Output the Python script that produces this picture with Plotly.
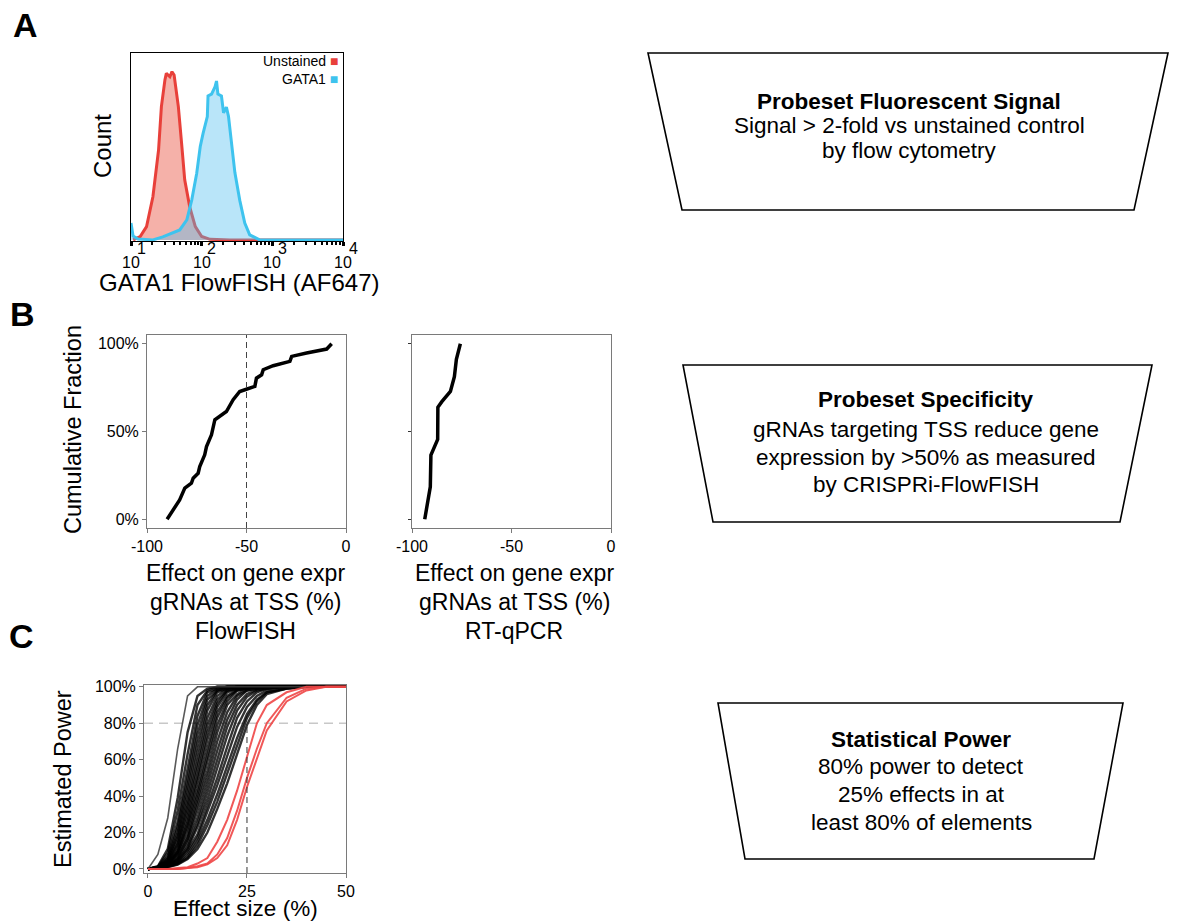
import plotly.graph_objects as go

W, H = 1185, 922
FONT = "Liberation Sans, Arial, Helvetica, sans-serif"

# ---------------- Panel A data: flow histogram (log10 intensity, normalised count)
RED_LOG = [1.03, 1.13, 1.22, 1.31, 1.39, 1.43, 1.48, 1.50, 1.55, 1.58, 1.61, 1.67, 1.72,
           1.76, 1.83, 1.91, 2.00, 2.12, 2.40, 3.00, 4.00]
RED_CNT = [0, 0.018, 0.071, 0.231, 0.481, 0.713, 0.856, 0.891, 0.873, 0.900, 0.882, 0.713,
           0.499, 0.321, 0.178, 0.071, 0.018, 0.003, 0, 0, 0]
BLUE_LOG = [1.00, 1.03, 1.10, 1.31, 1.45, 1.59, 1.69, 1.79, 1.86, 1.93, 1.98, 2.02, 2.08,
            2.09, 2.14, 2.19, 2.21, 2.23, 2.28, 2.31, 2.35, 2.38, 2.42, 2.47, 2.54, 2.61,
            2.68, 2.82, 3.00, 4.00]
BLUE_CNT = [0.09, 0.02, 0.005, 0, 0.016, 0.04, 0.053, 0.107, 0.214, 0.357, 0.50, 0.57, 0.66,
            0.77, 0.78, 0.82, 0.85, 0.78, 0.77, 0.68, 0.71, 0.66, 0.53, 0.36, 0.21, 0.09,
            0.027, 0, 0, 0]
A_TICK_EXP = [1, 2, 3, 4]

# ---------------- Panel B data: cumulative fraction of TSS gRNA effects
FF_EFFECT = [-89.9, -86.1, -83.6, -81.0, -77.7, -76.8, -74.3, -73.5, -71.0, -70.1, -67.6,
             -65.9, -63.4, -60.1, -56.7, -53.4, -50.8, -45.8, -45.0, -42.4, -41.6, -36.6,
             -28.2, -27.3, -19.8, -9.7, -7.2]
FF_FRAC = [0, 0.063, 0.11, 0.177, 0.205, 0.234, 0.262, 0.30, 0.367, 0.414, 0.481, 0.567,
           0.586, 0.614, 0.681, 0.728, 0.738, 0.757, 0.804, 0.823, 0.852, 0.875, 0.90,
           0.928, 0.947, 0.970, 1.0]
QPCR_EFFECT = [-93.6, -90.8, -90.5, -87.1, -87.0, -85.0, -80.7, -78.7, -77.7, -75.7]
QPCR_FRAC = [0, 0.185, 0.366, 0.455, 0.638, 0.670, 0.728, 0.813, 0.912, 1.0]
B_XTICKS = [-100, -50, 0]
B_XTICKTEXT = ["-100", "-50", "0"]
B_YTICKS = [0, 0.5, 1.0]
B_YTICKTEXT = ["0%", "50%", "100%"]

# ---------------- Panel C data: estimated power vs effect size
POWER_EFFECT = [0, 2.5, 5, 7.5, 10, 12.5, 15, 17.5, 20, 22.5, 25, 27.5, 30, 35, 40, 45, 50]
POWER_BLACK = [
    [0, 0.015, 0.11, 0.39, 0.75, 0.95, 0.99, 1, 1, 1, 1, 1, 1, 1, 1, 1, 1],
    [0, 0.013, 0.09, 0.32, 0.63, 0.90, 0.98, 1, 1, 1, 1, 1, 1, 1, 1, 1, 1],
    [0, 0.012, 0.07, 0.26, 0.55, 0.84, 0.97, 0.99, 1, 1, 1, 1, 1, 1, 1, 1, 1],
    [0, 0.011, 0.06, 0.23, 0.50, 0.79, 0.95, 0.99, 1, 1, 1, 1, 1, 1, 1, 1, 1],
    [0, 0.010, 0.05, 0.20, 0.46, 0.74, 0.93, 0.98, 1, 1, 1, 1, 1, 1, 1, 1, 1],
    [0, 0.010, 0.05, 0.18, 0.42, 0.69, 0.90, 0.98, 0.99, 1, 1, 1, 1, 1, 1, 1, 1],
    [0, 0.010, 0.04, 0.16, 0.38, 0.64, 0.87, 0.97, 0.99, 1, 1, 1, 1, 1, 1, 1, 1],
    [0, 0.008, 0.04, 0.14, 0.35, 0.59, 0.83, 0.95, 0.99, 1, 1, 1, 1, 1, 1, 1, 1],
    [0, 0.008, 0.035, 0.13, 0.32, 0.55, 0.79, 0.93, 0.98, 0.99, 1, 1, 1, 1, 1, 1, 1],
    [0, 0.007, 0.03, 0.11, 0.29, 0.51, 0.75, 0.91, 0.98, 0.99, 1, 1, 1, 1, 1, 1, 1],
    [0, 0.007, 0.03, 0.10, 0.26, 0.48, 0.71, 0.89, 0.97, 0.99, 1, 1, 1, 1, 1, 1, 1],
    [0, 0.007, 0.027, 0.09, 0.24, 0.44, 0.66, 0.86, 0.95, 0.985, 0.995, 1, 1, 1, 1, 1, 1],
    [0, 0.006, 0.025, 0.09, 0.22, 0.41, 0.62, 0.83, 0.94, 0.98, 0.99, 1, 1, 1, 1, 1, 1],
    [0, 0.006, 0.024, 0.08, 0.19, 0.38, 0.59, 0.79, 0.92, 0.98, 0.99, 1, 1, 1, 1, 1, 1],
    [0, 0.006, 0.02, 0.07, 0.17, 0.35, 0.54, 0.75, 0.90, 0.96, 0.99, 0.995, 1, 1, 1, 1, 1],
    [0, 0.006, 0.02, 0.06, 0.16, 0.32, 0.50, 0.70, 0.86, 0.95, 0.98, 0.99, 1, 1, 1, 1, 1],
    [0, 0.005, 0.018, 0.054, 0.14, 0.28, 0.46, 0.65, 0.82, 0.93, 0.98, 0.99, 1, 1, 1, 1, 1],
    [0, 0.005, 0.016, 0.05, 0.12, 0.25, 0.42, 0.60, 0.78, 0.90, 0.96, 0.985, 0.99, 1, 1, 1, 1],
    [0, 0.005, 0.015, 0.044, 0.11, 0.23, 0.38, 0.55, 0.73, 0.87, 0.945, 0.98, 0.99, 1, 1, 1, 1],
    [0, 0.005, 0.014, 0.04, 0.10, 0.19, 0.34, 0.50, 0.67, 0.83, 0.92, 0.97, 0.99, 1, 1, 1, 1],
    [0, 0.005, 0.013, 0.034, 0.085, 0.17, 0.31, 0.46, 0.62, 0.78, 0.89, 0.95, 0.98, 1, 1, 1, 1],
    [0, 0.004, 0.012, 0.03, 0.07, 0.15, 0.27, 0.41, 0.56, 0.72, 0.85, 0.93, 0.97, 0.99, 1, 1, 1],
    [0, 0.004, 0.011, 0.027, 0.06, 0.13, 0.24, 0.37, 0.52, 0.68, 0.83, 0.92, 0.97, 0.99, 1, 1, 1],
    [0, 0.004, 0.010, 0.024, 0.054, 0.11, 0.20, 0.33, 0.47, 0.63, 0.79, 0.90, 0.96, 0.99, 1, 1, 1],
]
POWER_GRAY = [0, 0.08, 0.28, 0.66, 0.95, 1, 1, 1, 1, 1, 1, 1, 1, 1, 1, 1, 1]
POWER_RED = [
    [0, 0, 0, 0.005, 0.01, 0.03, 0.06, 0.15, 0.27, 0.43, 0.62, 0.80, 0.90, 0.97, 1.0, 1, 1],
    [0, 0, 0, 0, 0.005, 0.015, 0.03, 0.08, 0.17, 0.32, 0.50, 0.66, 0.80, 0.94, 0.99, 1, 1],
    [0, 0, 0, 0, 0.005, 0.01, 0.025, 0.06, 0.13, 0.27, 0.45, 0.61, 0.76, 0.92, 0.98, 1, 1],
]
C_XTICKS = [0, 25, 50]
C_YTICKS = [0, 0.2, 0.4, 0.6, 0.8, 1.0]
C_YTICKTEXT = ["0%", "20%", "40%", "60%", "80%", "100%"]
POWER_TARGET = 0.8
EFFECT_TARGET = 25


def fx(p):
    return p / W


def fy(p):
    return 1 - p / H


fig = go.Figure()

# ---- Panel A traces
fig.add_trace(go.Scatter(x=[10 ** v for v in RED_LOG], y=RED_CNT, mode="lines", fill="tozeroy",
                         line=dict(color="#E8403A", width=3), fillcolor="rgba(232,70,50,0.42)",
                         xaxis="x", yaxis="y", hoverinfo="skip"))
fig.add_trace(go.Scatter(x=[10 ** v for v in BLUE_LOG], y=BLUE_CNT, mode="lines", fill="tozeroy",
                         line=dict(color="#3EC3EE", width=3), fillcolor="rgba(80,190,240,0.40)",
                         xaxis="x", yaxis="y", hoverinfo="skip"))

# ---- Panel B traces
fig.add_trace(go.Scatter(x=FF_EFFECT, y=FF_FRAC, mode="lines", line=dict(color="black", width=3.5),
                         xaxis="x2", yaxis="y2", hoverinfo="skip"))
fig.add_trace(go.Scatter(x=QPCR_EFFECT, y=QPCR_FRAC, mode="lines", line=dict(color="black", width=3.5),
                         xaxis="x3", yaxis="y3", hoverinfo="skip"))

# ---- Panel C traces
for row in POWER_BLACK:
    fig.add_trace(go.Scatter(x=POWER_EFFECT, y=row, mode="lines",
                             line=dict(color="rgba(0,0,0,0.8)", width=2.4),
                             xaxis="x4", yaxis="y4", hoverinfo="skip"))
fig.add_trace(go.Scatter(x=POWER_EFFECT, y=POWER_GRAY, mode="lines",
                         line=dict(color="rgba(60,60,60,0.85)", width=1.6),
                         xaxis="x4", yaxis="y4", hoverinfo="skip"))
for row in POWER_RED:
    fig.add_trace(go.Scatter(x=POWER_EFFECT, y=row, mode="lines",
                             line=dict(color="rgba(238,70,70,0.9)", width=2),
                             xaxis="x4", yaxis="y4", hoverinfo="skip"))

tickfont = dict(family=FONT, size=16, color="black")
frame_gray = "#7a7a7a"

a_major = [10 ** e for e in A_TICK_EXP]
a_minor = [k * 10 ** e for e in A_TICK_EXP[:-1] for k in range(2, 10)]

common = dict(showgrid=False, zeroline=False, showline=True, mirror=True, automargin=False)

layout = dict(
    width=W, height=H, margin=dict(l=0, r=0, t=0, b=0, pad=0), autosize=False,
    paper_bgcolor="white", plot_bgcolor="white", showlegend=False,
    font=dict(family=FONT, color="black"),
    # Panel A
    xaxis=dict(domain=[fx(131), fx(343)], anchor="y", type="log", range=[1, 4],
               linecolor="black", linewidth=1, ticks="outside", tickvals=a_major,
               ticktext=["" for _ in a_major], ticklen=4, tickwidth=3, tickcolor="black",
               minor=dict(ticks="outside", tickvals=a_minor, ticklen=3, tickwidth=2,
                          tickcolor="black", showgrid=False), **common),
    yaxis=dict(domain=[fy(241), fy(53)], anchor="x", range=[-0.006, 1.0],
               linecolor="black", linewidth=1, showticklabels=False, ticks="", **common),
    # Panel B left
    xaxis2=dict(domain=[fx(147), fx(346)], anchor="y2", range=[-100, 0], tickvals=B_XTICKS,
                ticktext=B_XTICKTEXT, linecolor=frame_gray, ticks="outside", ticklen=4,
                tickcolor=frame_gray, tickfont=tickfont, **common),
    yaxis2=dict(domain=[fy(528), fy(335)], anchor="x2", range=[-0.05, 1.05], tickvals=B_YTICKS,
                ticktext=B_YTICKTEXT, linecolor=frame_gray, ticks="outside", ticklen=4,
                tickcolor=frame_gray, tickfont=tickfont, **common),
    # Panel B right
    xaxis3=dict(domain=[fx(412), fx(611)], anchor="y3", range=[-100, 0], tickvals=B_XTICKS,
                ticktext=B_XTICKTEXT, linecolor=frame_gray, ticks="outside", ticklen=4,
                tickcolor=frame_gray, tickfont=tickfont, **common),
    yaxis3=dict(domain=[fy(528), fy(335)], anchor="x3", range=[-0.05, 1.05], tickvals=B_YTICKS,
                showticklabels=False, linecolor=frame_gray, ticks="outside", ticklen=3,
                tickcolor="#333", **common),
    # Panel C
    xaxis4=dict(domain=[fx(144), fx(346)], anchor="y4", range=[-1, 50], tickvals=C_XTICKS,
                linecolor=frame_gray, ticks="outside", ticklen=4, tickcolor=frame_gray,
                tickfont=tickfont, **common),
    yaxis4=dict(domain=[fy(873), fy(685)], anchor="x4", range=[-0.022, 1.01], tickvals=C_YTICKS,
                ticktext=C_YTICKTEXT, linecolor=frame_gray, ticks="outside", ticklen=4,
                tickcolor=frame_gray, tickfont=tickfont, **common),
)
fig.update_layout(**layout)

ann = []


def text(x, y, s, size=20, bold=False, angle=0, xanchor="center", yanchor="middle",
         color="black", xref="paper", xshift=0):
    ann.append(dict(x=x, y=y, xref=xref, yref="paper", text=("<b>%s</b>" % s) if bold else s,
                    showarrow=False, xanchor=xanchor, yanchor=yanchor, textangle=angle,
                    xshift=xshift, borderpad=0, font=dict(family=FONT, size=size, color=color)))


# panel letters
text(fx(25), fy(25), "A", size=34, bold=True)
text(fx(22), fy(314), "B", size=34, bold=True)
text(fx(21), fy(636), "C", size=34, bold=True)

# Panel A texts
for e in A_TICK_EXP:
    text(e, fy(262), "10", size=16, xref="x")
    text(e, fy(249), str(e), size=16, xref="x", xshift=10)
text(fx(103), fy(146), "Count", size=24, angle=-90)
text(fx(239), fy(282), "GATA1 FlowFISH (AF647)", size=24)
text(fx(339), fy(70.5), "Unstained <span style='color:#E8403A'>■</span>", size=14,
     xanchor="right", yanchor="bottom")
text(fx(339), fy(70.5), "GATA1 <span style='color:#3EC3EE'>■</span>", size=14,
     xanchor="right", yanchor="top")

# Panel B texts
text(fx(73), fy(430), "Cumulative Fraction", size=23.5, angle=-90)
for cx, last in ((fx(245), "FlowFISH"), (fx(514), "RT-qPCR")):
    text(cx, fy(573), "Effect on gene expr", size=23)
    text(cx, fy(602), "gRNAs at TSS (%)", size=23)
    text(cx, fy(631), last, size=23)

# Panel C texts
text(fx(63), fy(779), "Estimated Power", size=23.5, angle=-90)
text(fx(245), fy(922), "Effect size (%)", size=22.5, yanchor="bottom")

# Right-hand boxes
boxes = [
    ((648, 53), (1168, 53), (1134, 210), (682, 210), 909,
     [("Probeset Fluorescent Signal", 101), ("Signal > 2-fold vs unstained control", 125),
      ("by flow cytometry", 150)]),
    ((683, 365), (1152, 365), (1120, 522), (713, 522), 926,
     [("Probeset Specificity", 399), ("gRNAs targeting TSS reduce gene", 430),
      ("expression by >50% as measured", 457), ("by CRISPRi-FlowFISH", 484)]),
    ((718, 703), (1123, 703), (1094, 859), (745, 859), 921,
     [("Statistical Power", 739), ("80% power to detect", 766), ("25% effects in at", 794),
      ("least 80% of elements", 822)]),
]
shapes = []
for tl, tr, br, bl, cx, lines in boxes:
    path = "M %f,%f L %f,%f L %f,%f L %f,%f Z" % (fx(tl[0]), fy(tl[1]), fx(tr[0]), fy(tr[1]),
                                                    fx(br[0]), fy(br[1]), fx(bl[0]), fy(bl[1]))
    shapes.append(dict(type="path", path=path, xref="paper", yref="paper",
                       line=dict(color="black", width=1.6), fillcolor="rgba(0,0,0,0)"))
    for i, (s, yy) in enumerate(lines):
        text(fx(cx), fy(yy), s, size=22.5, bold=(i == 0))

# reference lines
shapes.append(dict(type="line", xref="x2", yref="y2 domain", x0=-50, x1=-50, y0=0, y1=1,
                   line=dict(color="#444", width=1, dash="6px,4px")))
shapes.append(dict(type="line", xref="x4 domain", yref="y4", x0=0, x1=1, y0=POWER_TARGET,
                   y1=POWER_TARGET, line=dict(color="#c8c8c8", width=1.6, dash="9px,6px"),
                   layer="below"))
shapes.append(dict(type="line", xref="x4", yref="y4", x0=EFFECT_TARGET, x1=EFFECT_TARGET,
                   y0=-0.022, y1=POWER_TARGET, line=dict(color="#333", width=1, dash="6px,4px")))

fig.update_layout(annotations=ann, shapes=shapes)
fig.write_html("out.html")
